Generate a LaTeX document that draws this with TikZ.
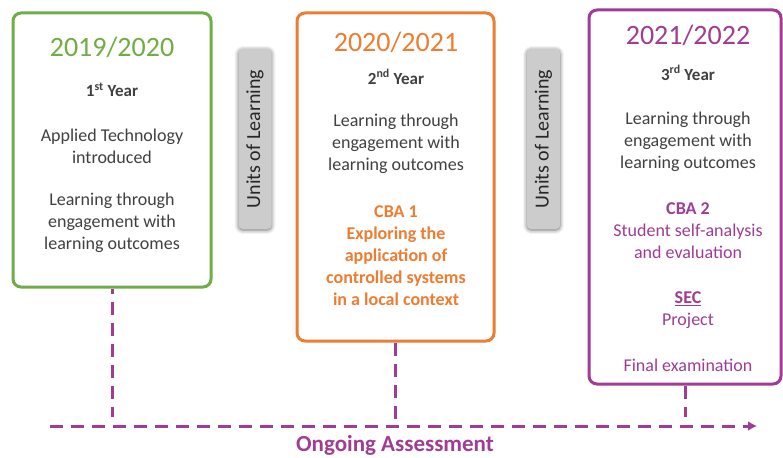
\documentclass[tikz,border=0pt]{standalone}
\usepackage{fontspec}
\setmainfont{Carlito}
\usetikzlibrary{arrows.meta,shadows.blur}

\definecolor{ygreen}{RGB}{112,173,71}
\definecolor{yorange}{RGB}{237,125,49}
\definecolor{ypurple}{RGB}{160,60,147}
\definecolor{ytext}{RGB}{64,64,64}
\definecolor{unitgray}{RGB}{204,204,204}

\begin{document}
\begin{tikzpicture}[x=1pt,y=-1pt,
  yearbox/.style={draw=#1,line width=3pt,rounded corners=8pt,fill=white},
  unitbox/.style={fill=unitgray,rounded corners=4pt,rotate=90,
    minimum width=180pt,minimum height=33pt,text=black!85,
    font=\fontsize{20}{24}\selectfont,
    blur shadow={shadow xshift=0pt,shadow yshift=-1pt,shadow blur radius=4pt,shadow opacity=60}},
  yeartxt/.style={text=#1,font=\fontsize{28}{32}\selectfont},
  classtxt/.style={text=ytext,font=\bfseries\fontsize{17}{20}\selectfont},
  bodytxt/.style={text=#1,align=center,font=\fontsize{18}{22}\selectfont},
  assess/.style={draw=ypurple,line width=3pt,dash pattern=on 13pt off 8pt}]
\useasboundingbox (0,0) rectangle (783,457);

% the three years
\node[yearbox=ygreen,minimum width=198pt,minimum height=274pt] (box1) at (112,150) {};
\node[yearbox=yorange,minimum width=197pt,minimum height=328pt] (box2) at (395.5,177) {};
\node[yearbox=ypurple,minimum width=192pt,minimum height=374pt] (box3) at (685,197) {};

% units of learning between the years
\node[unitbox] (units1) at (255,139) {Units of Learning};
\node[unitbox] (units2) at (543.5,139) {Units of Learning};

% 1st year
\node[yeartxt=ygreen] (year1) at (112,47) {2019/2020};
\node[classtxt] (class1) at (112,90) {1\textsuperscript{st} Year};
\node[bodytxt=ytext] (intro1) at (112,146) {Applied Technology\\introduced};
\node[bodytxt=ytext] (learn1) at (112,223) {Learning through\\engagement with\\learning outcomes};

% 2nd year
\node[yeartxt=yorange] (year2) at (396,42) {2020/2021};
\node[classtxt] (class2) at (396,77) {2\textsuperscript{nd} Year};
\node[bodytxt=ytext] (learn2) at (396,144) {Learning through\\engagement with\\learning outcomes};
\node[bodytxt=yorange,font=\bfseries\fontsize{18}{22}\selectfont] (cba1) at (396,256)
  {CBA 1\\Exploring the\\application of\\controlled systems\\in a local context};

% 3rd year
\node[yeartxt=ypurple] (year3) at (688,35) {2021/2022};
\node[classtxt] (class3) at (688,73) {3\textsuperscript{rd} Year};
\node[bodytxt=ytext] (learn3) at (688,142) {Learning through\\engagement with\\learning outcomes};
\node[bodytxt=ypurple] (cba2) at (688,231) {\textbf{CBA 2}\\Student self-analysis\\and evaluation};
\node[bodytxt=ypurple] (sec) at (688,310) {\textbf{\underline{SEC}}\\Project};
\node[bodytxt=ypurple] (final) at (688,365) {Final examination};

% ongoing assessment
\coordinate (start) at (50,426);
\coordinate (stop) at (757,426);
\coordinate (gap) at (0,417);
\draw[assess,-{Latex[length=9pt,width=10pt]}] (start) -- (stop);
\draw[assess,dash phase=8pt] (box1.south) -- (box1.south |- gap);
\draw[assess] (box2.south) -- (box2.south |- start);
\draw[assess] (box3.south) -- (box3.south |- gap);
\node[text=ypurple,font=\bfseries\fontsize{23}{27}\selectfont] (ongoing) at (395,445) {Ongoing Assessment};
\end{tikzpicture}
\end{document}
